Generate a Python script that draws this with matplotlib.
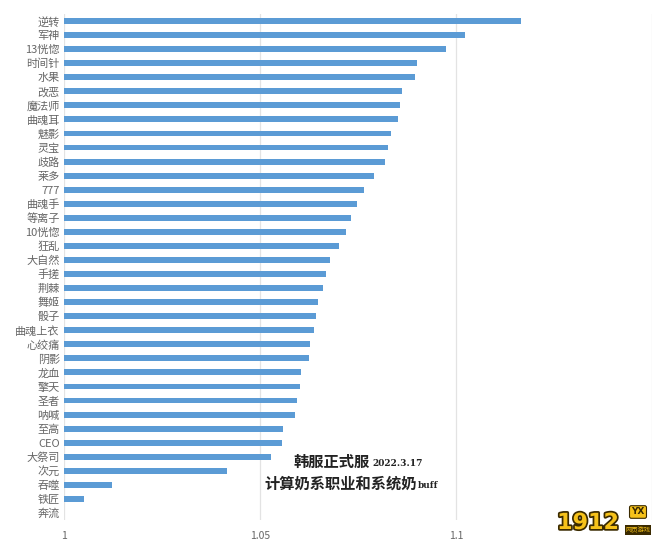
import matplotlib
matplotlib.use("Agg")
import matplotlib.pyplot as plt
import matplotlib.patheffects as pe

plt.rcParams['font.family'] = ['Noto Sans CJK SC', 'DejaVu Sans']

categories = ["逆转", "军神", "13恍惚", "时间针", "水果", "改恶", "魔法师", "曲魂耳",
              "魅影", "灵宝", "歧路", "莱多", "777", "曲魂手", "等离子", "10恍惚",
              "狂乱", "大自然", "手搓", "荆棘", "舞姬", "骰子", "曲魂上衣", "心绞痛",
              "阴影", "龙血", "擎天", "圣者", "呐喊", "至高", "CEO", "大祭司",
              "次元", "吞噬", "铁匠", "奔流"]
values = [1.1165, 1.1022, 1.0974, 1.0900, 1.0895, 1.0862, 1.0857, 1.0852,
          1.0834, 1.0826, 1.0819, 1.0791, 1.0765, 1.0748, 1.0732, 1.0720,
          1.0702, 1.0679, 1.0669, 1.0661, 1.0648, 1.0643, 1.0638, 1.0628,
          1.0625, 1.0605, 1.0603, 1.0595, 1.0590, 1.0559, 1.0557, 1.0529,
          1.0417, 1.0122, 1.0051, 1.0000]
xticks = [1, 1.05, 1.1, 1.15]
xtick_labels = ["1", "1.05", "1.1", ""]

fig = plt.figure(figsize=(6.71, 5.49), dpi=100)
ax = fig.add_axes([64/671, 1 - 520/549, (652-64)/671, (520-14)/549])

base = 1.0
ypos = list(range(len(categories)))
ax.barh(ypos, [v - base for v in values], left=base, height=0.42, color="#5b9bd5", zorder=3)
ax.set_ylim(len(categories) - 0.5, -0.5)
ax.set_xlim(1.0, 1.15)
ax.set_yticks(ypos)
ax.set_yticklabels(categories, fontsize=8, color="#666666")
ax.set_xticks(xticks)
ax.set_xticklabels(xtick_labels, fontsize=7.5, color="#666666")
ax.tick_params(axis='both', length=0, pad=3)
ax.tick_params(axis='x', pad=8)
ax.grid(axis='x', color="#e3e3e3", linewidth=0.9, zorder=0)
for s in ax.spines.values():
    s.set_visible(False)

fig.text(370/671, 1 - 462/549, "韩服正式服", fontsize=11, fontweight='bold', color="#222222",
         ha='right', va='center')
fig.text(372/671, 1 - 464/549, "2022.3.17", fontsize=6.5, fontweight='bold', color="#222222",
         family=['DejaVu Serif'], ha='left', va='center')
fig.text(417/671, 1 - 484/549, "计算奶系职业和系统奶", fontsize=11, fontweight='bold', color="#222222",
         ha='right', va='center')
fig.text(418/671, 1 - 486/549, "buff", fontsize=6.5, fontweight='bold', color="#222222",
         family=['DejaVu Serif'], ha='left', va='center')

# watermark logo
fig.text(588/671, 1 - 523/549, "1912", fontsize=16, fontweight='bold', color="#f6c21a",
         ha='center', va='center', family=['DejaVu Sans'],
         path_effects=[pe.withStroke(linewidth=2.5, foreground="#3a2a00")])
fig.text(638/671, 1 - 512/549, "YX", fontsize=6.5, fontweight='bold', color="#3a2a00",
         ha='center', va='center', family=['DejaVu Sans'],
         bbox=dict(boxstyle="round,pad=0.2", fc="#f6c21a", ec="#3a2a00", lw=0.8))
fig.text(638/671, 1 - 530/549, "网页游戏", fontsize=4.5, color="#f6c21a",
         ha='center', va='center',
         bbox=dict(boxstyle="square,pad=0.15", fc="#3a2a00", ec="none"))

fig.savefig("out.png", dpi=100, facecolor="white")
